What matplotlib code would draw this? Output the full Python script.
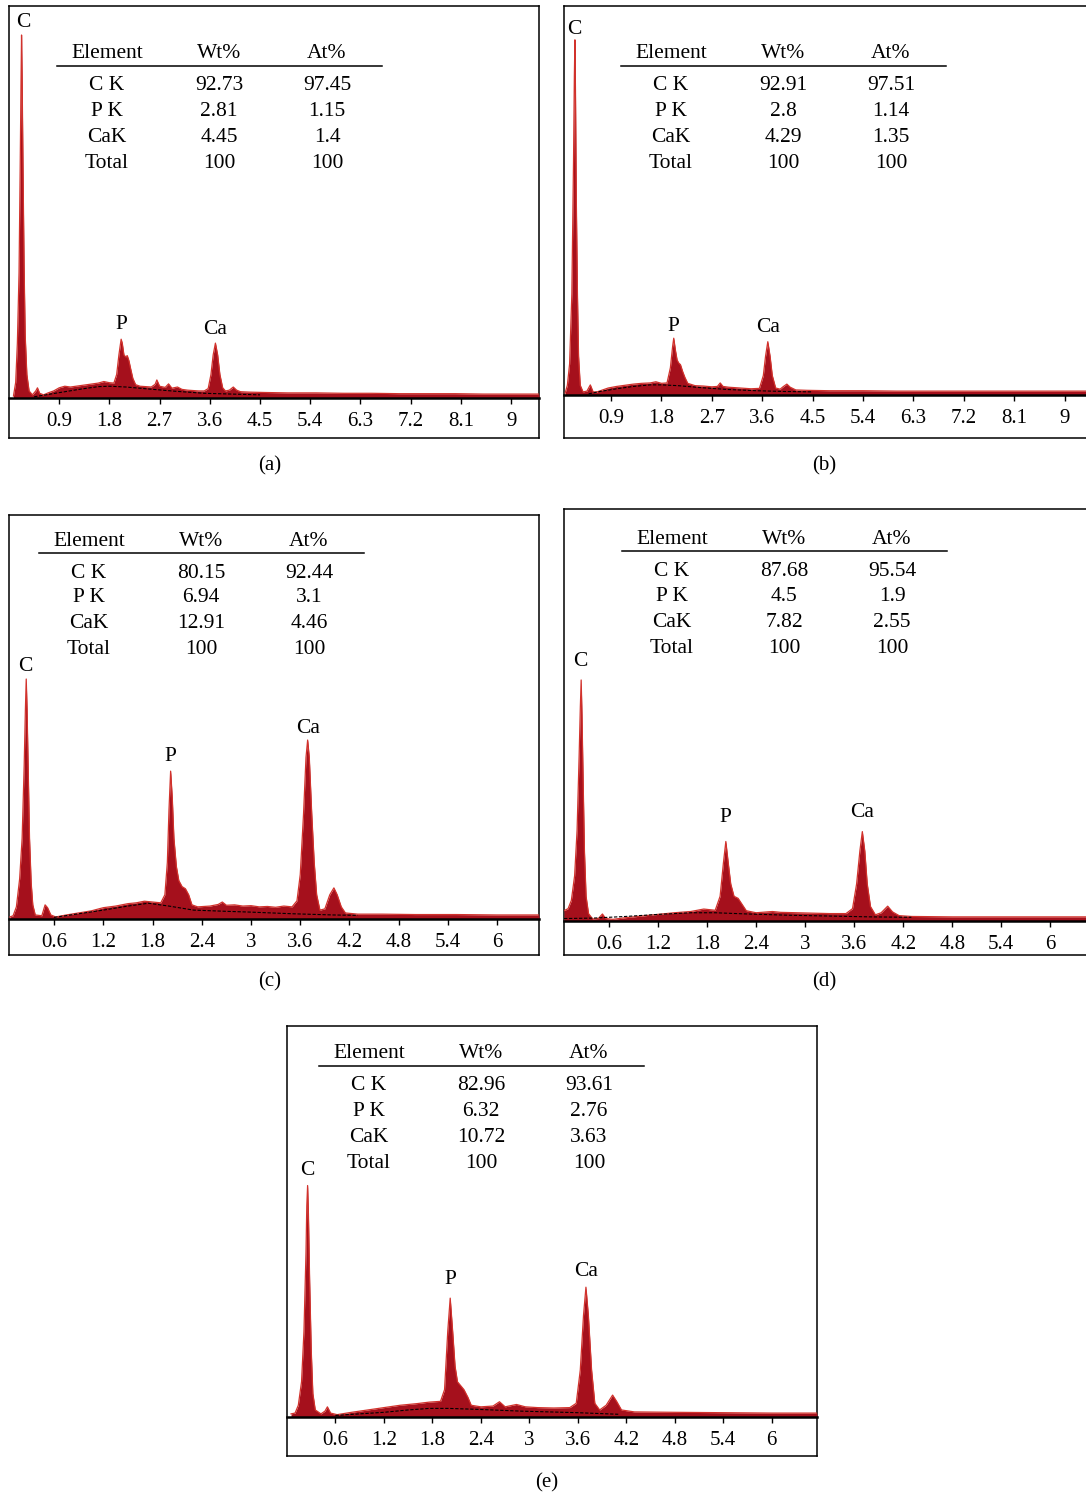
import numpy as np
import matplotlib.pyplot as plt

# =========================================================
# FONTS
# =========================================================

plt.rcParams['font.family'] = ['Liberation Serif', 'DejaVu Serif']

W, H = 1086, 1493

# =========================================================
# TABLE VALUES
# =========================================================

table_header = ['Element', 'Wt%', 'At%']
elements = ['C K', 'P K', 'CaK', 'Total']

wt_a = [92.73, 2.81, 4.45, 100]
at_a = [97.45, 1.15, 1.4, 100]

wt_b = [92.91, 2.8, 4.29, 100]
at_b = [97.51, 1.14, 1.35, 100]

wt_c = [80.15, 6.94, 12.91, 100]
at_c = [92.44, 3.1, 4.46, 100]

wt_d = [87.68, 4.5, 7.82, 100]
at_d = [95.54, 1.9, 2.55, 100]

wt_e = [82.96, 6.32, 10.72, 100]
at_e = [93.61, 2.76, 3.63, 100]

# =========================================================
# SPECTRA (energy in keV, counts in % of full scale)
# =========================================================

a_energy = [0.08, 0.12, 0.15, 0.18, 0.20, 0.215, 0.225, 0.235, 0.25, 0.27,
            0.29, 0.32, 0.36, 0.42, 0.48, 0.51, 0.55, 0.62, 0.70, 0.80,
            0.90, 1.00, 1.10, 1.20, 1.30, 1.40, 1.50, 1.60, 1.70, 1.80,
            1.88, 1.93, 1.97, 2.01, 2.03, 2.06, 2.09, 2.12, 2.15, 2.18,
            2.22, 2.27, 2.35, 2.45, 2.55, 2.62, 2.65, 2.70, 2.80, 2.86,
            2.92, 3.02, 3.10, 3.20, 3.30, 3.40, 3.50, 3.57, 3.62, 3.66,
            3.70, 3.74, 3.78, 3.83, 3.88, 3.95, 4.02, 4.08, 4.15, 4.30,
            4.6, 5.0, 5.5, 6.0, 6.5, 7.0, 7.5, 8.0, 8.5, 9.0, 9.5]
a_counts = [0.5, 4, 14, 32, 58, 80, 92.6, 82, 60, 34,
            16, 6, 1.8, 0.8, 1.8, 2.6, 1.2, 0.8, 1.3, 1.8,
            2.6, 3.0, 2.8, 3.0, 3.2, 3.4, 3.6, 3.8, 4.2, 3.9,
            3.8, 6, 11, 15, 14, 11, 10.5, 10.8, 9.5, 7.5,
            5, 3.4, 3.0, 2.9, 2.8, 3.5, 4.6, 3.0, 2.7, 3.6,
            2.5, 2.8, 2.2, 2.0, 1.9, 1.8, 1.8, 2.4, 6, 11,
            14, 11, 6, 2.6, 1.8, 2.0, 2.8, 2.0, 1.6, 1.5,
            1.4, 1.3, 1.3, 1.2, 1.2, 1.1, 1.1, 1.1, 1.0, 1.0, 1.0]
a_bg_energy = [0.45, 0.7, 1.0, 1.3, 1.6, 1.8, 2.1, 2.5, 3.0, 3.5, 4.0, 4.5]
a_bg_counts = [0.3, 0.9, 1.6, 2.3, 2.9, 3.0, 2.8, 2.3, 1.7, 1.2, 1.0, 0.8]

b_energy = [0.08, 0.12, 0.16, 0.20, 0.23, 0.245, 0.255, 0.265, 0.28, 0.30,
            0.32, 0.35, 0.40, 0.47, 0.53, 0.58, 0.65, 0.75, 0.85, 1.0,
            1.15, 1.3, 1.45, 1.6, 1.7, 1.8, 1.9, 1.96, 2.0, 2.02,
            2.05, 2.08, 2.11, 2.14, 2.18, 2.22, 2.27, 2.4, 2.55, 2.7,
            2.8, 2.85, 2.9, 3.0, 3.2, 3.4, 3.55, 3.62, 3.66, 3.70,
            3.74, 3.78, 3.84, 3.92, 3.98, 4.04, 4.10, 4.2, 4.4, 4.8,
            5.4, 6.0, 6.6, 7.2, 7.8, 8.4, 9.0, 9.45]
b_counts = [0.5, 2.5, 8, 26, 60, 82, 91.3, 78, 50, 26,
            10, 2.5, 0.8, 1.0, 2.6, 0.8, 0.8, 1.3, 1.8, 2.2,
            2.5, 2.8, 3.0, 3.1, 3.4, 3.0, 3.1, 7, 12.5, 14.6,
            11.5, 9, 8.2, 7.8, 6, 4.5, 3, 2.4, 2.3, 2.1,
            2.2, 3.1, 2.2, 2.0, 1.8, 1.6, 1.7, 5, 10, 13.7,
            10, 5, 1.8, 1.5, 2.2, 2.8, 2.0, 1.3, 1.2, 1.1,
            1.1, 1.0, 1.0, 1.0, 1.0, 1.0, 1.0, 1.0]
b_bg_energy = [0.5, 0.7, 1.0, 1.3, 1.6, 1.8, 2.1, 2.5, 3.0, 3.5, 4.0, 4.5]
b_bg_counts = [0.3, 0.9, 1.6, 2.2, 2.6, 2.6, 2.4, 1.9, 1.4, 1.1, 0.9, 0.8]

c_energy = [0.06, 0.10, 0.14, 0.18, 0.21, 0.235, 0.25, 0.26, 0.27, 0.285,
            0.30, 0.32, 0.34, 0.37, 0.45, 0.49, 0.52, 0.56, 0.62, 0.75,
            0.9, 1.05, 1.2, 1.35, 1.5, 1.6, 1.7, 1.8, 1.9, 1.95,
            1.98, 2.0, 2.02, 2.04, 2.06, 2.09, 2.12, 2.16, 2.2, 2.24,
            2.28, 2.35, 2.5, 2.6, 2.65, 2.7, 2.8, 2.9, 3.0, 3.1,
            3.2, 3.3, 3.4, 3.5, 3.56, 3.60, 3.64, 3.67, 3.69, 3.71,
            3.74, 3.77, 3.80, 3.84, 3.90, 3.96, 4.01, 4.05, 4.10, 4.15,
            4.3, 4.6, 5.0, 5.5, 6.0, 6.51]
c_counts = [0.5, 0.8, 3, 10, 20, 38, 52, 59.4, 52, 36,
            20, 9, 3.5, 1, 0.8, 3.5, 2.8, 1.0, 0.5, 1.0,
            1.5, 2.0, 2.8, 3.2, 3.8, 4.0, 4.4, 4.2, 4.0, 6,
            14, 27, 36.6, 30, 20, 13, 9.5, 8, 7.5, 6,
            3.5, 3.0, 3.2, 3.6, 4.2, 3.4, 3.5, 3.2, 3.3, 3.0,
            3.1, 2.9, 3.2, 3.0, 4.5, 11, 26, 40, 44.3, 40,
            26, 14, 6, 2.2, 2.5, 6, 7.7, 6, 3, 1.5,
            1.2, 1.2, 1.1, 1.1, 1.0, 1.0]
c_bg_energy = [0.6, 0.9, 1.2, 1.5, 1.75, 2.0, 2.3, 2.7, 3.0, 3.5, 4.0, 4.3]
c_bg_counts = [0.4, 1.3, 2.2, 3.2, 3.9, 3.2, 2.2, 1.9, 1.7, 1.3, 1.0, 0.9]

d_energy = [0.05, 0.10, 0.14, 0.18, 0.21, 0.235, 0.25, 0.26, 0.27, 0.285,
            0.30, 0.32, 0.35, 0.40, 0.47, 0.52, 0.56, 0.65, 0.8, 1.0,
            1.2, 1.4, 1.6, 1.76, 1.9, 1.96, 2.0, 2.03, 2.06, 2.09,
            2.13, 2.18, 2.23, 2.28, 2.4, 2.6, 2.7, 2.9, 3.1, 3.3,
            3.5, 3.58, 3.63, 3.67, 3.70, 3.73, 3.76, 3.80, 3.86, 3.93,
            4.01, 4.07, 4.15, 4.3, 4.8, 5.4, 6.0, 6.5]
d_counts = [2.5, 3, 5, 11, 22, 40, 52, 58.5, 50, 33,
            17, 6, 1.8, 0.5, 0.6, 1.7, 0.6, 0.4, 0.8, 1.2,
            1.6, 2.0, 2.3, 2.9, 2.6, 6, 14, 19.3, 14, 9,
            6, 5.5, 4, 2.5, 2.0, 2.3, 2.1, 2.0, 1.9, 1.8,
            1.8, 3, 9, 17, 21.7, 17, 9, 3.5, 1.5, 2.0,
            3.6, 2.2, 1.3, 1.1, 1.0, 1.0, 1.0, 1.0]
d_bg_energy = [0.05, 0.4, 0.8, 1.2, 1.6, 1.9, 2.3, 2.8, 3.3, 3.8, 4.3]
d_bg_counts = [0.6, 0.7, 1.1, 1.6, 2.0, 2.0, 1.7, 1.4, 1.2, 1.0, 0.9]

e_energy = [0.05, 0.10, 0.14, 0.18, 0.21, 0.235, 0.245, 0.255, 0.265, 0.28,
            0.30, 0.32, 0.35, 0.42, 0.47, 0.50, 0.54, 0.62, 0.8, 1.0,
            1.2, 1.4, 1.6, 1.76, 1.9, 1.95, 1.99, 2.02, 2.05, 2.08,
            2.11, 2.15, 2.19, 2.24, 2.28, 2.4, 2.55, 2.63, 2.7, 2.84,
            2.95, 3.1, 3.3, 3.5, 3.58, 3.63, 3.67, 3.70, 3.73, 3.77,
            3.81, 3.87, 3.95, 4.03, 4.08, 4.14, 4.3, 4.8, 5.4, 6.0, 6.56]
e_counts = [0.8, 1, 3, 9, 22, 42, 54, 59.2, 52, 35,
            17, 6, 1.8, 0.8, 1.5, 2.6, 1.0, 0.6, 1.2, 1.8,
            2.4, 3.0, 3.4, 3.8, 4.0, 7, 22, 30.4, 22, 13,
            9, 8, 7, 5, 3, 2.6, 2.8, 3.9, 2.6, 3.2,
            2.6, 2.4, 2.3, 2.4, 3.5, 12, 26, 33.2, 26, 12,
            3.5, 1.8, 3, 5.6, 4, 1.8, 1.3, 1.2, 1.1, 1.0, 1.0]
e_bg_energy = [0.6, 0.9, 1.2, 1.5, 1.76, 2.0, 2.3, 2.9, 3.6, 4.1]
e_bg_counts = [0.4, 0.8, 1.2, 1.8, 2.2, 2.2, 2.0, 1.5, 1.1, 0.7]

# peak labels and the energy each one sits above
peak_names = ['C', 'P', 'Ca']
peak_energy = [0.25, 2.02, 3.70]

ticks_ab = [0.9, 1.8, 2.7, 3.6, 4.5, 5.4, 6.3, 7.2, 8.1, 9.0]
ticklabels_ab = ['0.9', '1.8', '2.7', '3.6', '4.5', '5.4', '6.3', '7.2', '8.1', '9']

ticks_cde = [0.6, 1.2, 1.8, 2.4, 3.0, 3.6, 4.2, 4.8, 5.4, 6.0]
ticklabels_cde = ['0.6', '1.2', '1.8', '2.4', '3', '3.6', '4.2', '4.8', '5.4', '6']

# =========================================================
# PANEL LAYOUT (pixels)
# =========================================================

panels = [
    dict(tag='(a)', box=(9, 6, 539, 438), base=398, xlim=(0.0, 9.5),
         table=(48, 46), label_off=(13, 15, 14), cap=(270, 466),
         e=a_energy, c=a_counts, be=a_bg_energy, bc=a_bg_counts,
         wt=wt_a, at=at_a, ticks=ticks_ab, tl=ticklabels_ab),
    dict(tag='(b)', box=(564, 6, 1092, 438), base=395, xlim=(0.06, 9.49),
         table=(57, 46), label_off=(10, 12, 14), cap=(824, 466),
         e=b_energy, c=b_counts, be=b_bg_energy, bc=b_bg_counts,
         wt=wt_b, at=at_b, ticks=ticks_ab, tl=ticklabels_ab),
    dict(tag='(c)', box=(9, 515, 539, 955), base=919, xlim=(0.05, 6.51),
         table=(30, 24), label_off=(13, 15, 12), cap=(270, 982),
         e=c_energy, c=c_counts, be=c_bg_energy, bc=c_bg_counts,
         wt=wt_c, at=at_c, ticks=ticks_cde, tl=ticklabels_cde),
    dict(tag='(d)', box=(564, 509, 1092, 955), base=921, xlim=(0.05, 6.51),
         table=(58, 28), label_off=(18, 24, 19), cap=(824, 982),
         e=d_energy, c=d_counts, be=d_bg_energy, bc=d_bg_counts,
         wt=wt_d, at=at_d, ticks=ticks_cde, tl=ticklabels_cde),
    dict(tag='(e)', box=(287, 1026, 817, 1456), base=1417, xlim=(0.0, 6.56),
         table=(32, 26), label_off=(15, 19, 16), cap=(547, 1483),
         e=e_energy, c=e_counts, be=e_bg_energy, bc=e_bg_counts,
         wt=wt_e, at=at_e, ticks=ticks_cde, tl=ticklabels_cde),
]

FS = 15.5


def px_rect(x0, y0, x1, y1):
    return [x0 / W, 1 - y1 / H, (x1 - x0) / W, (y1 - y0) / H]


# =========================================================
# CREATE FIGURE
# =========================================================

fig = plt.figure(figsize=(W / 100, H / 100), dpi=100)

for p in panels:

    x0, y0, x1, y1 = p['box']
    bw, bh = x1 - x0, y1 - y0

    # ---- outer frame, pixel coordinates inside ----
    box = fig.add_axes(px_rect(x0, y0, x1, y1))
    box.set_xlim(0, bw)
    box.set_ylim(bh, 0)
    box.set_xticks([])
    box.set_yticks([])
    for s in box.spines.values():
        s.set_linewidth(1.1)

    # ---- composition table ----
    tx, ty = p['table']
    col_x = [tx + 50, tx + 162, tx + 270]
    for cx, head in zip(col_x, table_header):
        box.text(cx, ty + 2, head, ha='center', va='center', fontsize=FS)
    box.plot([tx, tx + 325], [ty + 14, ty + 14], color='black', lw=1.1)

    row_y = [ty + 34, ty + 59, ty + 85, ty + 111]
    for ry, name, w, a in zip(row_y, elements, p['wt'], p['at']):
        box.text(col_x[0], ry, name, ha='center', va='center', fontsize=FS)
        box.text(col_x[1], ry, f"{w:g}", ha='center', va='center', fontsize=FS)
        box.text(col_x[2], ry, f"{a:g}", ha='center', va='center', fontsize=FS)

    # ---- spectrum ----
    ax = fig.add_axes(px_rect(x0, y0, x1, p['base']))
    ax.set_facecolor('none')
    ax.set_xlim(*p['xlim'])
    ax.set_ylim(0, 100)

    energy = np.array(p['e'])
    counts = np.array(p['c'])

    ax.fill_between(energy, counts, 0, color='#a5101c', lw=0)
    ax.plot(energy, counts, color='#d2322c', lw=0.9)
    ax.plot(p['be'], p['bc'], color='black', lw=0.8, ls=(0, (3, 1.5)))

    for name, pe, off in zip(peak_names, peak_energy, p['label_off']):
        near = np.abs(energy - pe) < 0.06
        top = counts[near].max()
        ax.annotate(name, (pe, top), xytext=(0, off * 0.72),
                    textcoords='offset points', ha='center', va='center',
                    fontsize=FS)

    for side in ['top', 'left', 'right']:
        ax.spines[side].set_visible(False)
    ax.spines['bottom'].set_linewidth(1.8)

    ax.set_yticks([])
    ax.set_xticks(p['ticks'])
    ax.set_xticklabels(p['tl'])
    ax.tick_params(axis='x', direction='out', length=4.5, width=1.0,
                   pad=5.5, labelsize=15)

    # ---- caption ----
    fig.text(p['cap'][0] / W, 1 - p['cap'][1] / H, p['tag'],
             ha='center', va='center', fontsize=15)

# =========================================================
# SAVE
# =========================================================

fig.savefig('out.png', dpi=100)
